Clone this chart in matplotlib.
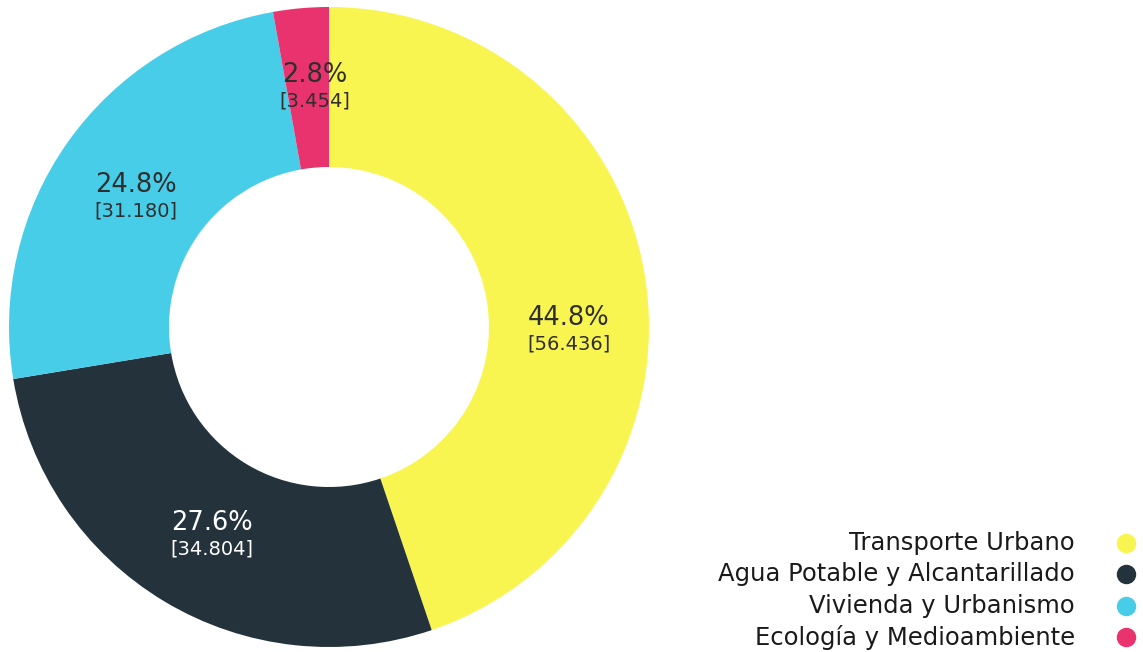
import matplotlib
matplotlib.use("Agg")
import matplotlib.pyplot as plt
from matplotlib.lines import Line2D
import numpy as np

# --- данные ---
categories = ["Transporte Urbano", "Agua Potable y Alcantarillado",
              "Vivienda y Urbanismo", "Ecología y Medioambiente"]
percents = [44.8, 27.6, 24.8, 2.8]
amounts = ["56.436", "34.804", "31.180", "3.454"]
colors = ["#F9F550", "#24323C", "#48CDE8", "#E8336F"]
label_colors = ["#2e2e2e", "#FFFFFF", "#2e2e2e", "#2e2e2e"]

plt.rcParams["font.family"] = ["DejaVu Sans"]

W, H = 1143, 652
fig = plt.figure(figsize=(W / 100, H / 100), dpi=100)

# ось пончика: центр (329, 327) px, радиус 320 px
cx, cy, R = 329, 327, 320
ax = fig.add_axes([(cx - R) / W, (H - cy - R) / H, 2 * R / W, 2 * R / H])
wedges, _ = ax.pie(percents, colors=colors, startangle=90, counterclock=False,
                   radius=1.0, wedgeprops=dict(width=0.5, linewidth=0))
ax.set_xlim(-1, 1)
ax.set_ylim(-1, 1)
ax.set_aspect("equal")
ax.axis("off")

# подписи долей (середина сектора, небольшая поправка для жёлтого)
offsets = [(0.01, -0.135), (0.02, -0.01), (0.01, -0.03), (0.02, 0.0)]
for w, p, a, lc, (dx, dy) in zip(wedges, percents, amounts, label_colors, offsets):
    ang = np.deg2rad((w.theta1 + w.theta2) / 2)
    x = 0.75 * np.cos(ang) + dx
    y = 0.75 * np.sin(ang) + dy
    ax.text(x, y + 0.04, f"{p:.1f}%", ha="center", va="center",
            fontsize=18.5, color=lc)
    ax.text(x, y - 0.04, f"[{a}]", ha="center", va="center",
            fontsize=14, color=lc)

# легенда: текст выровнен вправо, маркеры справа
rows_y = [543, 574, 606, 637]
for cat, col, yy in zip(categories, colors, rows_y):
    fig.text(1075 / W, 1 - yy / H, cat, ha="right", va="center",
             fontsize=17.5, color="#1a1a1a")
    fig.add_artist(Line2D([1126 / W], [1 - yy / H], marker="o", markersize=13,
                          color=col, linestyle="none", transform=fig.transFigure))

fig.savefig("out.png", dpi=100, facecolor="white")
